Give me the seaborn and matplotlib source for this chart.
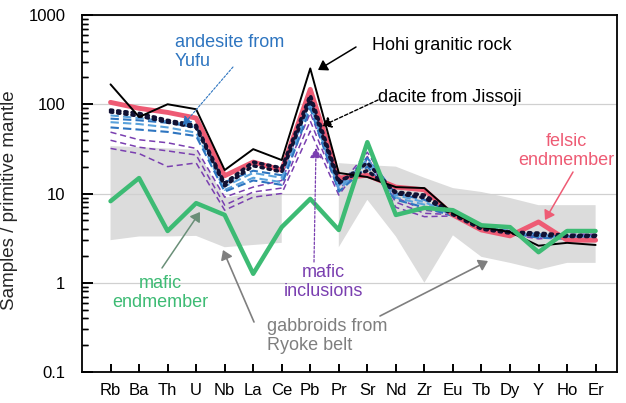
import numpy as np
import pandas as pd
import matplotlib
matplotlib.use("Agg")
import matplotlib.pyplot as plt
from matplotlib.transforms import blended_transform_factory
from matplotlib.lines import TICKRIGHT, TICKUP
import seaborn as sns

elements = ["Rb", "Ba", "Th", "U", "Nb", "La", "Ce", "Pb", "Pr", "Sr", "Nd", "Zr",
            "Eu", "Tb", "Dy", "Y", "Ho", "Er"]

hohi = [167, 72, 100, 88, 18.3, 31.4, 23.7, 252, 17, 15.3, 11.8, 11.5, 6.0, 4.2, 3.7, 2.6, 2.8, 2.65]
felsic = [105, 90, 81, 70, 15.8, 22.5, 18.3, 147, 14.9, 16, 11.8, 11, 5.75, 3.9, 3.35, 4.8, 3.0, 3.0]
mafic = [8.2, 14.9, 3.8, 7.8, 5.75, 1.26, 4.2, 8.7, 3.9, 37.6, 5.75, 6.9, 6.5, 4.4, 4.2, 2.2, 3.8, 3.8]

dacite_1 = [86, 79, 66, 58, 13, 22.5, 19.3, 126, 14, 18, 10.4, 9.6, 6.0, 4.1, 3.7, 3.6, 3.4, 3.4]
dacite_2 = [82, 74, 63, 55, 12.2, 20.5, 17.5, 112, 13, 22, 10.0, 9.0, 5.8, 4.0, 3.6, 3.4, 3.3, 3.3]

yufu_1 = [69, 66, 62, 55, 13.4, 18, 16, 110, 12.4, 25, 10, 8.5, 6.0, 4.2, 3.8, 3.5, 3.3, 3.3]
yufu_2 = [63, 60, 55, 48, 11, 15, 13.4, 98, 11, 22, 9, 7.5, 5.8, 4.1, 3.7, 3.3, 3.2, 3.2]
yufu_3 = [55, 52, 49, 44, 10.5, 14, 12.5, 90, 10.5, 20, 8.5, 7.0, 5.6, 4.0, 3.6, 3.2, 3.1, 3.1]
yufu_4 = [75, 70, 64, 57, 12, 17, 15, 104, 11.8, 24, 9.6, 8.0, 5.9, 4.1, 3.7, 3.4, 3.3, 3.3]

incl_1 = [48.7, 40, 37, 32, 9.1, 11.8, 14, 80, 12, 29, 9, 6.5, 6.0, 4.0, 3.7, 3.3, 3.5, 3.5]
incl_2 = [39.5, 33, 30, 27, 7.4, 10.4, 11.5, 65, 11, 24, 8, 6.0, 5.8, 3.9, 3.6, 3.2, 3.4, 3.4]
incl_3 = [32, 28, 20, 22, 6.5, 9.1, 10, 50, 9.6, 26, 7, 5.5, 5.6, 3.8, 3.5, 3.1, 3.3, 3.3]

band_upper = [34, 33, 32, 31, 9, 10, 10, np.nan, 21.9, 20.8, 20, 15, 11.5, 10.4, 8.9, 7.4, 7.4, 7.4]
band_lower = [3.0, 3.3, 3.3, 3.35, 2.5, 2.65, 2.8, np.nan, 2.5, 8.5, 3.3, 1.0, 3.4, 1.95, 1.67, 1.4, 1.67, 1.67]

yticks = [0.1, 1, 10, 100, 1000]
ytick_labels = ["0.1", "1", "10", "100", "1000"]

sns.set_theme(style="white")
plt.rcParams["font.family"] = ["Liberation Sans", "DejaVu Sans"]
plt.rcParams.update({"ytick.left": True, "xtick.bottom": True,
                     "axes.edgecolor": "black", "axes.linewidth": 1.3,
                     "axes.grid": True, "axes.grid.axis": "y",
                     "axes.grid.which": "major", "grid.color": "#d0d0d0",
                     "grid.linewidth": 0.9})

fig = plt.figure(figsize=(6.26, 4.03), dpi=100)
ax = fig.add_axes([82 / 626, 1 - 372 / 403, (617 - 82) / 626, (372 - 15) / 403])

x = np.arange(len(elements))

def draw(vals, color, lw, ls, z, **kw):
    df = pd.DataFrame({"x": x, "v": vals})
    sns.lineplot(data=df, x="x", y="v", ax=ax, color=color, lw=lw, linestyle=ls,
                 zorder=z, sort=False, **kw)

PURPLE = "#7a3fb0"
BLUE = "#2e75c0"
LBLUE = "#5aa2dc"
PINK = "#ee5b74"
GREEN = "#3dbb74"

for s in [incl_1, incl_2, incl_3]:
    draw(s, PURPLE, 1.1, (0, (4, 2.5)), 2)
for s, c in [(yufu_1, BLUE), (yufu_2, LBLUE), (yufu_3, BLUE), (yufu_4, LBLUE)]:
    draw(s, c, 1.5, (0, (4, 2)), 3)
draw(felsic, PINK, 3.5, "-", 4)
for s in [dacite_1, dacite_2]:
    draw(s, "#111133", 2.6, (0, (0.6, 1.4)), 5, dash_capstyle="round")
draw(hohi, "black", 1.4, "-", 6)
draw(mafic, GREEN, 3.2, "-", 7)

ax.set_yscale("log")
ax.set_ylim(0.1, 1000)
ax.set_xlim(-1, 17.75)
ax.fill_between(x, band_lower, band_upper, color="#dcdcdc", lw=0, zorder=1)
ax.set_axisbelow("line")
ax.set_xticks(x)
ax.set_xticklabels(elements, fontsize=12)
ax.set_yticks(yticks)
ax.set_yticklabels(ytick_labels, fontsize=12)
ax.set_xlabel("")
ax.set_ylabel("Samples / primitive mantle", fontsize=13.5)
ax.yaxis.set_label_coords((18 - 82) / 535, 0.48)
ax.tick_params(axis="both", which="both", direction="in", colors="black")
ax.tick_params(axis="y", which="major", length=8, width=1.2, left=True, pad=12)
ax.tick_params(axis="y", which="minor", length=4, width=1.0, left=True)
ax.tick_params(axis="x", which="major", length=6, width=1.2, bottom=True, pad=8)

# explicit inward tick marks along the left and bottom spines
tr_y = blended_transform_factory(ax.transAxes, ax.transData)
tr_x = blended_transform_factory(ax.transData, ax.transAxes)
minor_vals = [m * t for t in yticks[:-1] for m in range(2, 10)]
ax.plot([0] * len(yticks), yticks, transform=tr_y, ls="none", marker=TICKRIGHT,
        ms=8, mew=1.2, color="black", clip_on=False, zorder=9, scalex=False, scaley=False)
ax.plot([0] * len(minor_vals), minor_vals, transform=tr_y, ls="none", marker=TICKRIGHT,
        ms=4, mew=1.0, color="black", clip_on=False, zorder=9, scalex=False, scaley=False)
ax.plot(x, [0] * len(x), transform=tr_x, ls="none", marker=TICKUP,
        ms=6, mew=1.2, color="black", clip_on=False, zorder=9, scalex=False, scaley=False)
ax.set_ylim(0.1, 1000)
ax.set_xlim(-1, 17.75)

def px(xp, yp):
    return (xp / 626, 1 - yp / 403)

def label(xp, yp, text, color, ha="left"):
    fig.text(xp / 626, 1 - yp / 403, text, color=color, fontsize=13, ha=ha,
             va="center", linespacing=1.1)

def arrow(x0, y0, x1, y1, color, ls="-", lw=1.0, hw=8, hl=10):
    ax.annotate("", xy=px(x1, y1), xycoords="figure fraction",
                xytext=px(x0, y0), textcoords="figure fraction",
                arrowprops=dict(arrowstyle=f"-|>,head_width={hw/20},head_length={hl/20}",
                                color=color, lw=lw, linestyle=ls,
                                shrinkA=0, shrinkB=0), zorder=10)

label(175, 52, "andesite from\nYufu", BLUE)
arrow(233, 67, 183, 125, BLUE, ls=(0, (2, 1.5)), lw=0.8, hw=5, hl=8)

label(372, 46, "Hohi granitic rock", "black")
arrow(356, 47, 318, 70, "black", lw=1.1, hw=6, hl=9)

label(378, 98, "dacite from Jissoji", "black")
arrow(378, 100, 322, 126, "black", ls=(0, (2.5, 1.5)), lw=1.0, hw=6, hl=9)

label(566, 151, "felsic\nendmember", PINK, ha="center")
arrow(573, 172, 545, 220, PINK, lw=1.1, hw=6, hl=9)

label(160, 293, "mafic\nendmember", GREEN, ha="center")
arrow(162, 268, 200, 212, "#6a8f78", lw=1.1, hw=6, hl=9)

label(323, 282, "mafic\ninclusions", PURPLE, ha="center")
arrow(314, 262, 316, 148, PURPLE, ls=(0, (2, 1.5)), lw=0.9, hw=6, hl=10)

label(267, 336, "gabbroids from\nRyoke belt", "#7f7f7f")
arrow(254, 322, 223, 250, "#7f7f7f", lw=1.2, hw=6, hl=9)
arrow(380, 316, 488, 261, "#7f7f7f", lw=1.2, hw=6, hl=9)

fig.savefig("out.png", dpi=100)
